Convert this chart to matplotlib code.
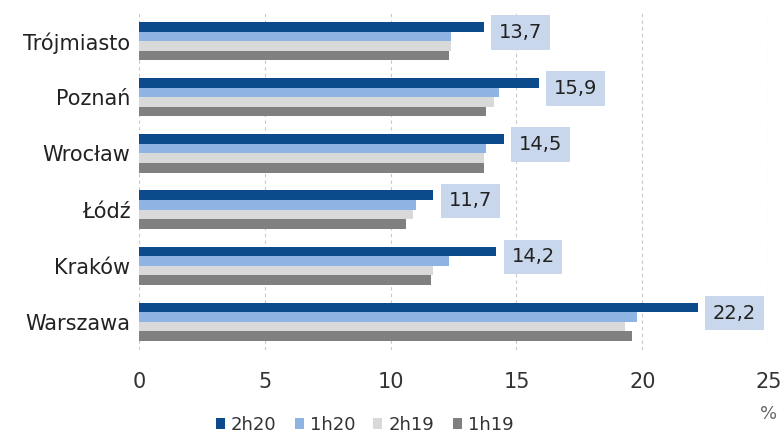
import numpy as np
import matplotlib.pyplot as plt

plt.rcParams['font.family'] = ['DejaVu Sans']

cities = ["Trójmiasto", "Poznań", "Wrocław", "Łódź", "Kraków", "Warszawa"]
series = ["2h20", "1h20", "2h19", "1h19"]
v_2h20 = [13.7, 15.9, 14.5, 11.7, 14.2, 22.2]
v_1h20 = [12.4, 14.3, 13.8, 11.0, 12.3, 19.8]
v_2h19 = [12.4, 14.1, 13.7, 10.9, 11.7, 19.3]
v_1h19 = [12.3, 13.8, 13.7, 10.6, 11.6, 19.6]
values = [v_2h20, v_1h20, v_2h19, v_1h19]
colors = ["#0B4A8B", "#8DB4E2", "#D9D9D9", "#808080"]

fig = plt.figure(figsize=(7.84, 4.4), dpi=100)
ax = fig.add_axes([0.177, 0.205, 0.803, 0.765])

y = np.arange(len(cities))
h = 0.17
for i, (name, vals, col) in enumerate(zip(series, values, colors)):
    ax.barh(y + (i - 1.5) * h, vals, height=h, color=col, label=name, zorder=3)

# value labels for 2h20
for yi, v in zip(y, v_2h20):
    ax.text(v + 0.6, yi - 1.5 * h + 0.1, f"{v:.1f}".replace(".", ","),
            ha="left", va="center", fontsize=14, color="#222222", zorder=4,
            bbox=dict(boxstyle="square,pad=0.4", facecolor="#C8D7EB",
                      edgecolor="none"))

ax.set_xlim(0, 25)
ax.set_ylim(len(cities) - 0.5, -0.5)
ax.set_yticks(y)
ax.set_yticklabels(cities, fontsize=15, color="#222222")
ax.set_xticks(range(0, 26, 5))
ax.tick_params(axis="x", labelsize=15, colors="#333333", length=0, pad=16)
ax.tick_params(axis="y", length=0, pad=6)
for s in ax.spines.values():
    s.set_visible(False)
ax.grid(axis="x", linestyle=(0, (3, 3)), color="#C8C8C8", linewidth=0.8, zorder=0)

fig.legend(*ax.get_legend_handles_labels(), loc="center", bbox_to_anchor=(0.465, 0.034),
           ncol=4, frameon=False, fontsize=13, handlelength=0.5, handleheight=0.5,
           handletextpad=0.35, columnspacing=1.0, labelcolor="#333333",
           borderaxespad=0, borderpad=0)
fig.text(0.98, 0.06, "%", ha="center", va="center", fontsize=13, color="#666666")

fig.savefig("out.png", dpi=100)
